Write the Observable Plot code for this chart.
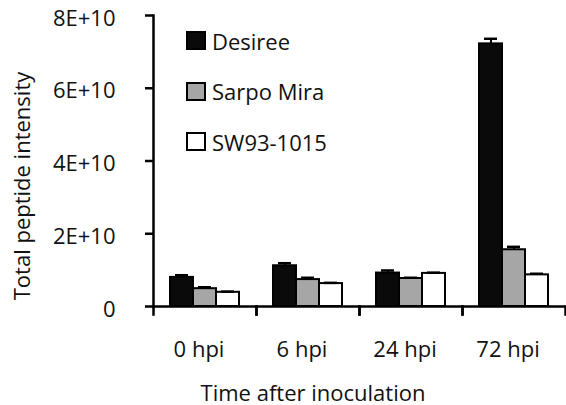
<!DOCTYPE html>
<html>
<head>
<meta charset="utf-8">
<script src="https://cdn.jsdelivr.net/npm/d3@7"></script>
<script src="https://cdn.jsdelivr.net/npm/@observablehq/plot@0.6"></script>
<style>
  body { margin: 0; background: #fff; font-family: "Open Sans", sans-serif; }
  #wrap { position: relative; width: 566px; height: 405px; }
  #legend { position: absolute; left: 0; top: 0; }
  .item { position: absolute; left: 186px; display: flex; align-items: center; height: 20px; }
  .sw { box-sizing: border-box; width: 20px; height: 19px; border: 2px solid #000; margin-right: 6px; }
  .lab { font-size: 22px; line-height: 20px; color: #111; white-space: nowrap; }
</style>
</head>
<body>
<div id="wrap"><div id="legend"></div></div>
<script>
const times = ["0 hpi", "6 hpi", "24 hpi", "72 hpi"];
const varieties = ["Desiree", "Sarpo Mira", "SW93-1015"];
const desiree = [8.0e9, 11.2e9, 9.2e9, 72.2e9];
const sarpoMira = [4.9e9, 7.4e9, 7.7e9, 15.6e9];
const sw93 = [3.9e9, 6.3e9, 9.1e9, 8.7e9];
const desireeErr = [0.6e9, 0.7e9, 0.7e9, 1.4e9];
const sarpoMiraErr = [0.4e9, 0.5e9, 0.2e9, 0.8e9];
const sw93Err = [0.2e9, 0.2e9, 0.2e9, 0.3e9];
const yTicks = [0, 2e10, 4e10, 6e10, 8e10];
const colors = ["#0a0a0a", "#a6a6a6", "#ffffff"];
const yTitle = "Total peptide intensity";
const xTitle = "Time after inoculation";

const series = [desiree, sarpoMira, sw93];
const errs = [desireeErr, sarpoMiraErr, sw93Err];
const rows = [];
times.forEach((t, i) => varieties.forEach((v, j) => {
  rows.push({time: t, variety: v, value: series[j][i], err: errs[j][i]});
}));

const fmt = d => d === 0 ? "0" : (d / 1e10) + "E+10";

const chart = Plot.plot({
  width: 566,
  height: 405,
  marginLeft: 151,
  marginRight: 0,
  marginTop: 15,
  marginBottom: 99,
  style: {fontFamily: "Open Sans", fontSize: "22px", color: "#111", background: "transparent"},
  fx: {domain: times, padding: 0, label: null},
  x: {domain: varieties, paddingInner: 0, paddingOuter: 0.66, axis: null},
  y: {domain: [0, 8e10], axis: null},
  color: {domain: varieties, range: colors},
  marks: [
    Plot.barY(rows, {fx: "time", x: "variety", y: "value", fill: "variety", stroke: "#000", strokeWidth: 2}),
    Plot.ruleX(rows, {fx: "time", x: "variety", y1: "value", y2: d => d.value + d.err, stroke: "#000", strokeWidth: 2}),
    Plot.tickY(rows, {fx: "time", x: "variety", y: d => d.value + d.err, insetLeft: 5, insetRight: 5, stroke: "#000", strokeWidth: 2.5}),
    Plot.ruleY([0], {stroke: "#000", strokeWidth: 2.5}),
    Plot.frame({anchor: "left", insetTop: 291, insetBottom: -8, stroke: "#000", strokeWidth: 2.5}),
    Plot.frame({anchor: "right", insetTop: 291, insetBottom: -8, stroke: "#000", strokeWidth: 2.5}),
    Plot.frame({anchor: "left", fx: () => times[0], stroke: "#000", strokeWidth: 2.5}),
    Plot.axisY({ticks: yTicks, tickFormat: () => "", tickSize: 8, stroke: "#000", strokeWidth: 2.5, label: null}),
    Plot.axisY({ticks: yTicks, tickFormat: fmt, tickSize: 0, tickPadding: 38, dy: 3, fill: "#111", label: null}),
    Plot.axisFx({anchor: "bottom", tickSize: 0, tickPadding: 35, dx: -6, fill: "#111", label: null}),
    Plot.text([yTitle], {fx: () => times[0], frameAnchor: "left", rotate: -90, lineAnchor: "bottom", textAnchor: "middle", dx: -124, dy: 25, fill: "#111", fontSize: 22}),
    Plot.text([xTitle], {fx: () => times[1], frameAnchor: "bottom", lineAnchor: "bottom", textAnchor: "middle", dx: 5, dy: 94, fill: "#111", fontSize: 22})
  ]
});
document.getElementById("wrap").prepend(chart);

const legend = document.getElementById("legend");
varieties.forEach((v, j) => {
  const it = document.createElement("div");
  it.className = "item";
  it.style.top = (30.7 + j * 50.5) + "px";
  const sw = document.createElement("div");
  sw.className = "sw";
  sw.style.background = colors[j];
  const lab = document.createElement("span");
  lab.className = "lab";
  lab.textContent = v;
  it.append(sw, lab);
  legend.append(it);
});
</script>
</body>
</html>
